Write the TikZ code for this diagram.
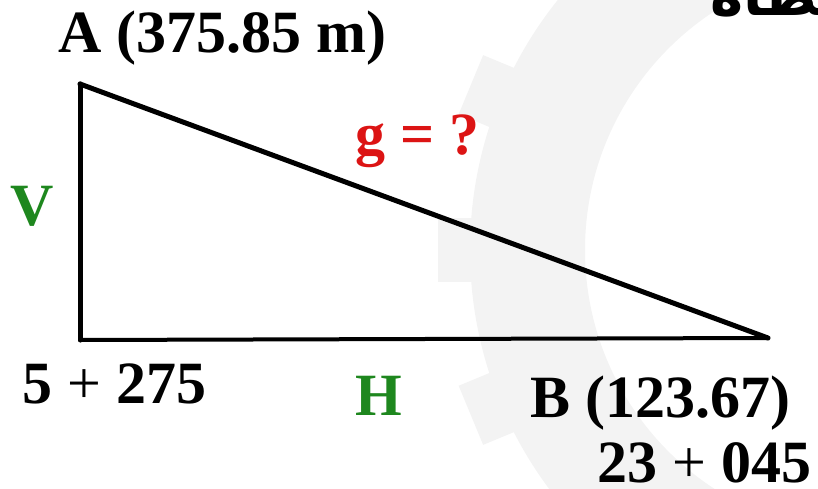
\documentclass[tikz,border=0pt]{standalone}
\usepackage{fontspec}
\setmainfont{Liberation Serif}
\newfontfamily\arabicfont[Script=Arabic]{DejaVu Sans}
\TeXXeTstate=1
\definecolor{lblgreen}{RGB}{30,135,30}
\definecolor{lblred}{RGB}{220,20,20}
\definecolor{wmark}{RGB}{243,243,243}
\begin{document}
\begin{tikzpicture}[x=1pt,y=-1pt,
  lbl/.style={inner sep=0pt,anchor=base west,font=\fontsize{60}{64}\selectfont\bfseries},
  edge/.style={line width=5pt,line cap=round,line join=round}]
\useasboundingbox (0,0) rectangle (818,489);
\clip (0,0) rectangle (818,489);
% faint watermark gear
\begin{scope}
  \fill[wmark,even odd rule] (870,250) circle[radius=400] (870,250) circle[radius=285];
  \foreach \a in {0,22.5,...,337.5}
    \fill[wmark,rotate around={\a:(870,250)}] (1260,218) rectangle (1302,282);
\end{scope}
% triangle
\coordinate (A) at (80,84);
\coordinate (C) at (80,340);
\coordinate (B) at (768,338);
\draw[edge] (A) -- (C);
\draw[line width=4pt,line cap=round] (C) -- (B);
\draw[edge] (A) -- (B);
% labels
\node[lbl] (la) at (58,53) {A (375.85 m)};
\node[lbl,text=lblred] (lg) at (355,155) {g = ?};
\node[lbl,text=lblgreen] (lv) at (10,225) {V};
\node[lbl] (lc) at (22,403) {5 {\mdseries+} 275};
\node[lbl,text=lblgreen] (lh) at (355,415) {H};
\node[lbl] (lb) at (530,417) {B (123.67)};
\node[lbl] (lb2) at (597,482) {23 {\mdseries+} 045};
\node[inner sep=0pt,anchor=base west,font=\arabicfont\fontsize{56}{60}\selectfont\bfseries] (ar) at (710,16) {\beginR معطاة\endR};
\end{tikzpicture}
\end{document}
